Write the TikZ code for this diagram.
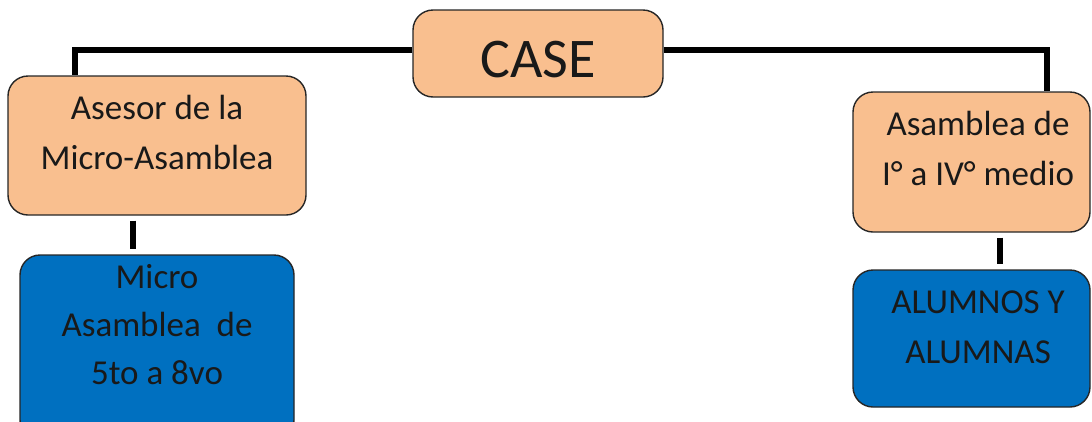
\documentclass[tikz,border=0pt]{standalone}
\usepackage{fontspec}
\setmainfont{Carlito}
\definecolor{peach}{HTML}{F9BF8F}
\definecolor{deepblue}{HTML}{0070C0}
\tikzset{
  box/.style={draw=black!85, line width=1.4pt, rounded corners=20pt, inner sep=0pt},
  peachbox/.style={box, fill=peach},
  bluebox/.style={box, fill=deepblue},
  txt/.style={align=center, inner sep=0pt, text=black!90, font=\fontsize{35}{50}\selectfont},
  link/.style={line width=5.5pt, black}
}
\begin{document}
\begin{tikzpicture}[x=1pt,y=-1pt]
\useasboundingbox (0,0) rectangle (1092,421);
\clip (0,0) rectangle (1092,421);
% boxes
\node[peachbox, minimum width=250pt, minimum height=87pt] (case) at (538,53.5) {};
\node[peachbox, minimum width=298pt, minimum height=139pt] (asesor) at (157,145.5) {};
\node[bluebox, minimum width=274pt, minimum height=185pt] (micro) at (157,347.5) {};
\node[peachbox, minimum width=237pt, minimum height=140pt] (asamblea) at (971.5,162) {};
\node[bluebox, minimum width=237pt, minimum height=137pt] (alumnos) at (971.5,338.5) {};
% texts
\node[txt, font=\fontsize{56}{60}\selectfont] (tcase) at (538,60) {CASE};
\node[txt] (tasesor) at (157,132) {Asesor de la\\Micro-Asamblea};
\node[txt, font=\fontsize{35}{48}\selectfont] (tmicro) at (157,325) {Micro\\Asamblea\ \ de\\5to a 8vo};
\node[txt] (tasamblea) at (978,148) {Asamblea de\\I° a IV° medio};
\node[txt] (talumnos) at (978,327) {ALUMNOS Y\\ALUMNAS};
% connectors
\draw[link] ([yshift=3.5pt]case.west) -| ([xshift=-82pt]asesor.north);
\draw[link] ([yshift=3.5pt]case.east) -| ([xshift=75.5pt]asamblea.north);
\draw[link, shorten <=5pt, shorten >=5pt] ([xshift=-24pt]asesor.south) -- ([xshift=-24pt]asesor.south |- micro.north);
\draw[link, shorten <=5pt, shorten >=5pt] ([xshift=28.5pt]asamblea.south) -- ([xshift=28.5pt]asamblea.south |- alumnos.north);
\end{tikzpicture}
\end{document}
